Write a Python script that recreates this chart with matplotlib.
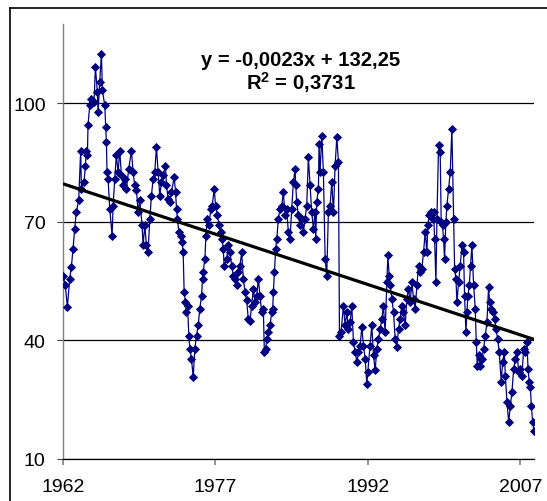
import numpy as np
import matplotlib
matplotlib.use("Agg")
import matplotlib.pyplot as plt
from matplotlib.lines import Line2D

plt.rcParams["font.family"] = ["Liberation Sans", "DejaVu Sans"]
plt.rcParams["mathtext.fontset"] = "custom"
plt.rcParams["mathtext.rm"] = "Liberation Sans"
plt.rcParams["mathtext.bf"] = "Liberation Sans:bold"

# series (fractional year, value)
years = [
    1962.00, 1962.23, 1962.43, 1962.66, 1962.82, 1962.99, 1963.15, 1963.31, 1963.54, 1963.74,
    1963.81, 1964.07, 1964.20, 1964.30, 1964.40, 1964.46, 1964.63, 1964.79, 1965.05, 1965.19,
    1965.38, 1965.45, 1965.61, 1965.78, 1965.88, 1966.11, 1966.20, 1966.27, 1966.33, 1966.43,
    1966.60, 1966.83, 1966.93, 1967.09, 1967.25, 1967.42, 1967.58, 1967.75, 1967.91, 1968.08,
    1968.24, 1968.47, 1968.73, 1968.90, 1969.06, 1969.23, 1969.39, 1969.55, 1969.78, 1969.88,
    1970.05, 1970.21, 1970.37, 1970.54, 1970.70, 1970.87, 1971.03, 1971.19, 1971.36, 1971.52,
    1971.69, 1971.85, 1972.08, 1972.18, 1972.34, 1972.51, 1972.67, 1972.94, 1973.07, 1973.17,
    1973.26, 1973.40, 1973.59, 1973.72, 1973.82, 1973.92, 1974.05, 1974.15, 1974.25, 1974.38,
    1974.48, 1974.64, 1974.81, 1974.97, 1975.14, 1975.30, 1975.46, 1975.63, 1975.73, 1975.79,
    1975.96, 1976.06, 1976.19, 1976.35, 1976.55, 1976.68, 1976.88, 1977.01, 1977.20, 1977.34,
    1977.53, 1977.66, 1977.76, 1977.86, 1978.10, 1978.26, 1978.43, 1978.59, 1978.76, 1978.92,
    1979.08, 1979.25, 1979.41, 1979.58, 1979.74, 1979.91, 1980.07, 1980.23, 1980.40, 1980.56,
    1980.73, 1980.89, 1981.06, 1981.22, 1981.38, 1981.55, 1981.71, 1981.81, 1981.94, 1982.04,
    1982.20, 1982.37, 1982.53, 1982.63, 1982.70, 1982.80, 1982.93, 1983.03, 1983.19, 1983.35,
    1983.52, 1983.68, 1983.85, 1984.01, 1984.17, 1984.34, 1984.50, 1984.67, 1984.83, 1984.90,
    1984.99, 1985.16, 1985.32, 1985.49, 1985.65, 1985.81, 1985.98, 1986.14, 1986.31, 1986.47,
    1986.64, 1986.80, 1986.87, 1986.96, 1987.13, 1987.19, 1987.29, 1987.46, 1987.62, 1987.79,
    1987.95, 1988.11, 1988.28, 1988.44, 1988.61, 1988.77, 1988.94, 1989.10, 1989.20, 1989.36,
    1989.59, 1989.76, 1989.92, 1990.08, 1990.25, 1990.41, 1990.58, 1990.74, 1990.91, 1991.07,
    1991.23, 1991.40, 1991.56, 1991.73, 1991.89, 1991.99, 1992.22, 1992.38, 1992.55, 1992.71,
    1992.88, 1993.04, 1993.20, 1993.37, 1993.53, 1993.69, 1993.86, 1993.96, 1994.09, 1994.19,
    1994.35, 1994.52, 1994.68, 1994.84, 1995.01, 1995.17, 1995.34, 1995.50, 1995.67, 1995.83,
    1995.99, 1996.16, 1996.32, 1996.49, 1996.65, 1996.82, 1996.98, 1997.14, 1997.31, 1997.47,
    1997.64, 1997.80, 1997.90, 1998.03, 1998.23, 1998.36, 1998.46, 1998.56, 1998.69, 1998.79,
    1998.95, 1999.11, 1999.21, 1999.34, 1999.44, 1999.54, 1999.67, 1999.77, 1999.94, 2000.10,
    2000.26, 2000.43, 2000.53, 2000.66, 2000.76, 2000.92, 2001.08, 2001.25, 2001.41, 2001.51,
    2001.64, 2001.74, 2001.84, 2001.97, 2002.10, 2002.23, 2002.40, 2002.56, 2002.66, 2002.76,
    2002.89, 2003.05, 2003.22, 2003.38, 2003.55, 2003.71, 2003.87, 2003.97, 2004.14, 2004.27,
    2004.46, 2004.60, 2004.76, 2004.92, 2005.12, 2005.25, 2005.42, 2005.52, 2005.68, 2005.85,
    2006.01, 2006.17, 2006.34, 2006.50, 2006.67, 2006.83, 2006.99, 2007.16, 2007.32, 2007.49,
    2007.65, 2007.75, 2007.88, 2007.98, 2008.08, 2008.21, 2008.34,
]
values = [
    56.4, 53.9, 48.4, 55.6, 58.5, 63.2, 68.2, 72.4, 75.4, 88.0,
    78.3, 80.0, 84.2, 88.0, 86.8, 94.4, 99.4, 101.1, 100.3, 109.1,
    102.8, 97.7, 105.3, 112.5, 103.2, 99.4, 93.9, 90.1, 82.5, 80.9,
    73.3, 66.5, 74.1, 80.9, 86.8, 82.5, 88.0, 81.7, 79.2, 80.9,
    78.3, 83.4, 88.0, 82.5, 79.2, 77.9, 72.4, 75.4, 69.1, 64.0,
    69.1, 64.0, 62.3, 70.7, 76.6, 80.9, 82.5, 88.9, 82.5, 76.6,
    80.0, 81.7, 84.2, 79.2, 75.8, 75.0, 77.5, 81.3, 77.5, 73.3,
    70.7, 67.4, 66.5, 64.8, 62.3, 52.2, 49.7, 47.1, 48.8, 41.2,
    37.9, 35.3, 30.7, 37.9, 41.2, 43.8, 48.0, 51.3, 55.6, 57.3,
    60.6, 66.5, 70.7, 69.1, 73.3, 74.1, 78.3, 74.1, 71.6, 69.1,
    67.4, 65.7, 63.2, 58.9, 60.6, 64.0, 62.3, 58.9, 56.4, 55.6,
    53.9, 57.3, 58.9, 62.3, 55.6, 52.2, 50.1, 45.4, 45.0, 48.8,
    53.0, 49.7, 51.3, 55.6, 51.3, 47.1, 48.0, 37.0, 37.9, 40.4,
    42.1, 43.8, 47.1, 48.0, 52.2, 57.3, 63.2, 65.7, 70.7, 73.3,
    74.1, 77.5, 71.6, 73.3, 67.4, 65.7, 73.3, 80.0, 83.4, 79.2,
    75.0, 71.6, 69.1, 70.7, 67.4, 70.7, 74.1, 86.3, 79.2, 72.4,
    68.2, 72.4, 65.7, 75.0, 78.3, 89.7, 82.5, 91.8, 82.5, 60.6,
    56.4, 72.4, 74.1, 80.0, 72.4, 84.2, 91.4, 85.1, 41.2, 42.1,
    48.8, 43.8, 47.1, 42.9, 44.6, 48.8, 39.5, 37.0, 34.5, 37.0,
    38.7, 43.3, 38.7, 35.3, 29.0, 32.0, 38.7, 43.8, 36.2, 32.4,
    37.9, 40.4, 42.9, 45.4, 48.8, 42.1, 54.7, 61.5, 56.4, 53.9,
    50.5, 47.1, 40.4, 38.3, 42.9, 45.4, 48.8, 47.1, 43.8, 50.5,
    53.0, 49.7, 54.7, 50.5, 48.0, 53.9, 58.9, 57.3, 58.1, 62.3,
    67.4, 62.3, 69.1, 71.6, 72.4, 70.7, 72.4, 65.7, 54.7, 70.7,
    89.3, 87.6, 69.9, 69.1, 65.7, 60.6, 69.9, 74.1, 78.3, 82.5,
    93.5, 70.7, 58.1, 55.6, 49.7, 54.7, 58.9, 64.0, 62.3, 51.3,
    42.1, 47.1, 51.3, 53.9, 58.9, 64.0, 53.9, 48.0, 39.5, 33.6,
    36.2, 33.6, 35.3, 37.9, 41.2, 44.6, 53.5, 49.7, 48.0, 47.1,
    45.4, 42.9, 40.4, 37.0, 29.4, 34.5, 37.0, 31.1, 24.4, 19.3,
    23.5, 26.9, 32.8, 35.3, 37.0, 32.0, 32.8, 31.1, 37.9, 37.0,
    39.5, 32.8, 29.4, 28.2, 23.5, 19.3, 17.2,
]

# trend line: y = slope * excel_serial + intercept (slope shown rounded as -0,0023)
slope = -0.002325
intercept = 132.25
serial_1962 = 22647  # Excel serial of 1 Jan 1962

x_ticks = [1962, 1977, 1992, 2007]
y_ticks = [10, 40, 70, 100]
eq_line1 = "y = -0,0023x + 132,25"
eq_line2 = r"$\mathbf{R^2}$ = 0,3731"

W, H = 547, 502
fig = plt.figure(figsize=(W / 100, H / 100), dpi=100)
ax = fig.add_axes([63 / W, 42 / H, (534 - 63) / W, 435 / H])

yrs = np.array(years)
vals = np.array(values)
ax.plot(yrs, vals, color="#000080", linewidth=0.9, marker="D",
        markersize=4.0, markeredgewidth=0.6, zorder=3)

tx = np.array([yrs[0], yrs[-1]])
ty = slope * (serial_1962 + (tx - 1962) * 365.25) + intercept
ax.plot(tx, ty, color="black", linewidth=2.3, zorder=4, solid_capstyle="butt")

ax.set_xlim(yrs[0], yrs[-1])
ax.set_ylim(10, 120)
ax.set_xticks(x_ticks)
ax.set_yticks(y_ticks)
ax.yaxis.grid(True, color="black", linewidth=0.9)
ax.set_axisbelow(True)

for s in ["top", "right"]:
    ax.spines[s].set_visible(False)
ax.spines["left"].set_color("#808080")
ax.spines["left"].set_linewidth(1.0)
ax.spines["bottom"].set_color("black")
ax.spines["bottom"].set_linewidth(0.9)

ax.tick_params(axis="x", length=4.5, width=1.2, color="#808080", pad=9, labelsize=14)
ax.tick_params(axis="y", length=4.5, width=0.8, color="#404040", pad=8, labelsize=14)

fig.text(301 / W, 1 - 66 / H, eq_line1, ha="center", va="baseline",
         fontsize=14.6, fontweight="bold")
fig.text(301 / W, 1 - 90 / H, eq_line2, ha="center", va="baseline",
         fontsize=14.6, fontweight="bold")

# chart frame (only left and top edges fall inside the picture)
fig.add_artist(Line2D([10 / W, 10 / W], [0, 1 - 9 / H], color="black", linewidth=1.2,
                      transform=fig.transFigure))
fig.add_artist(Line2D([10 / W, 1], [1 - 9 / H, 1 - 9 / H], color="black", linewidth=1.2,
                      transform=fig.transFigure))

fig.savefig("out.png", dpi=100)
